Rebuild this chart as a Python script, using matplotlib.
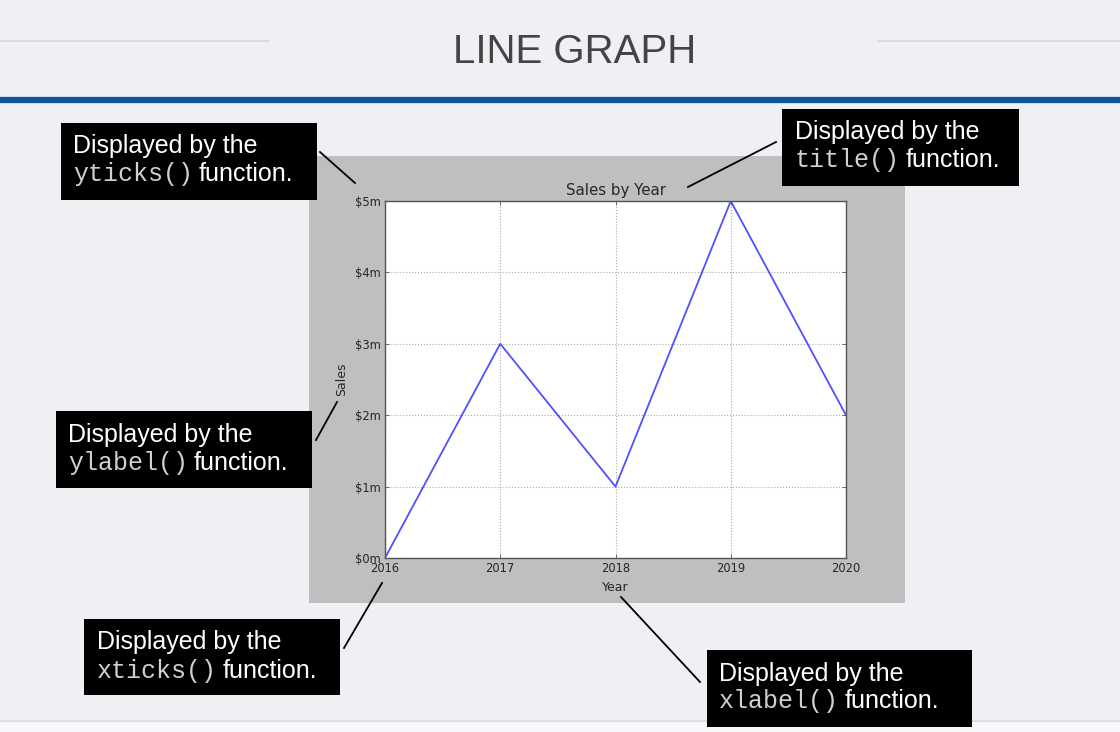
import matplotlib
matplotlib.use('Agg')
from matplotlib import pyplot as plt
from matplotlib.patches import Rectangle
from matplotlib.lines import Line2D

# chart data
years = [2016, 2017, 2018, 2019, 2020]
sales = [0, 3, 1, 5, 2]  # millions
ytick_vals = [0, 1, 2, 3, 4, 5]
ytick_labels = ['$0m', '$1m', '$2m', '$3m', '$4m', '$5m']

# callouts: (function name, box left/top/right/bottom, text x, baseline 1, baseline 2, connector)
callouts = [
    ('yticks()', (61, 123, 317, 200), 73, 153, 181, ((320, 152), (355, 183))),
    ('title()', (782, 109, 1019, 186), 795, 139, 167, ((776, 142), (688, 187))),
    ('ylabel()', (56, 411, 312, 488), 68, 442, 470, ((316, 440), (337, 402))),
    ('xticks()', (84, 619, 340, 695), 97, 649, 678, ((344, 648), (382, 583))),
    ('xlabel()', (707, 650, 972, 727), 719, 681, 708, ((621, 597), (700, 682))),
]

W, H = 1120, 732
SLIDE = '#eef0f4'


def fx(x):
    return x / W


def fy(y):
    return 1 - y / H


fig = plt.figure(figsize=(W / 100, H / 100), dpi=100, facecolor=SLIDE)

# slide header
fig.add_artist(Line2D([0, fx(268)], [fy(41), fy(41)], color='#d6d8dc', lw=1.2))
fig.add_artist(Line2D([fx(878), 1], [fy(41), fy(41)], color='#d6d8dc', lw=1.2))
fig.text(fx(575), fy(52), 'LINE GRAPH', ha='center', va='center',
         fontsize=29, color='#444444', family='Liberation Sans')
fig.add_artist(Line2D([0, 1], [fy(100), fy(100)], color='#0d5596', lw=4.5))

# slide footer
fig.add_artist(Rectangle((0, 0), 1, fy(721), transform=fig.transFigure,
                         facecolor='#f7f8fa', edgecolor='none', zorder=-2))
fig.add_artist(Line2D([0, 1], [fy(721), fy(721)], color='#dcdee2', lw=1.5, zorder=-2))

# grey chart background, behind the axes
fig.add_artist(Rectangle((fx(309), fy(603)), fx(905) - fx(309), fy(156) - fy(603),
                         transform=fig.transFigure, facecolor='#bfbfbf', edgecolor='none',
                         zorder=-1))

# the chart itself
ax = fig.add_axes([fx(385), fy(558), fx(846) - fx(385), fy(201) - fy(558)])
ax.set_facecolor('white')
ax.plot(years, sales, color='#5050ff', lw=1.3)
ax.set_xlim(2016, 2020)
ax.set_ylim(0, 5)
plt.xticks(years, [str(y) for y in years], fontsize=8.3)
plt.yticks(ytick_vals, ytick_labels, fontsize=8.3)
plt.title('Sales by Year', fontsize=10.8, color='#262626', pad=4)
plt.xlabel('Year', fontsize=9, color='#262626', labelpad=4)
plt.ylabel('Sales', fontsize=9, color='#262626', labelpad=5)
ax.grid(True, linestyle=':', color='#aaaaaa', lw=0.8)
ax.tick_params(direction='in', length=3, width=0.6, top=True, right=True,
               colors='#555555', labelcolor='#262626', pad=3)
for s in ax.spines.values():
    s.set_color('#555555')
    s.set_linewidth(1.0)

# callout boxes
for name, box, tx, b1, b2, conn in callouts:
    l, t, r, b = box
    fig.add_artist(Rectangle((fx(l), fy(b)), fx(r) - fx(l), fy(t) - fy(b),
                             transform=fig.transFigure, facecolor='black', edgecolor='none',
                             zorder=3))
    fig.text(fx(tx), fy(b1), 'Displayed by the', ha='left', va='baseline',
             fontsize=18, color='white', family='Liberation Sans', zorder=4)
    fig.text(fx(tx), fy(b2), name, ha='left', va='baseline',
             fontsize=18, color='#d0d0d0', family='Liberation Mono', zorder=4)
    fig.text(fx(tx + len(name) * 15 + 6), fy(b2), 'function.', ha='left', va='baseline',
             fontsize=18, color='white', family='Liberation Sans', zorder=4)
    (x1, y1), (x2, y2) = conn
    fig.add_artist(Line2D([fx(x1), fx(x2)], [fy(y1), fy(y2)], color='black', lw=1.3, zorder=3))

plt.savefig('out.png', dpi=100, facecolor=SLIDE)
